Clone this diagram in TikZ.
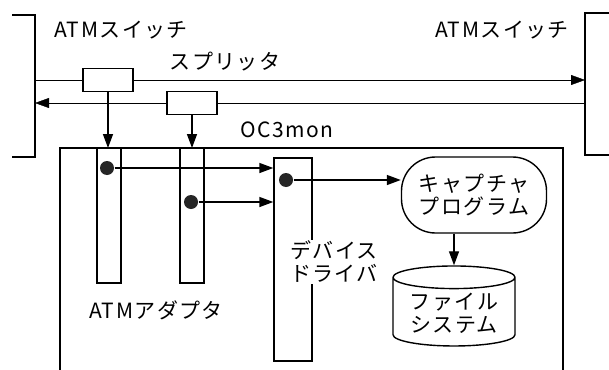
\documentclass[tikz,border=0pt]{standalone}
\usepackage{fontspec}
\setmainfont[LetterSpace=7]{Noto Sans CJK JP}
\usetikzlibrary{positioning,arrows.meta,shapes.geometric,backgrounds}

\begin{document}
\begin{tikzpicture}[
  x=1pt, y=-1pt, line width=1.4pt,
  lbl/.style={font=\fontsize{21}{23}\selectfont, align=center, inner sep=1pt},
  splitbox/.style={draw, fill=white, minimum width=50pt, minimum height=23pt, inner sep=0pt},
  bar/.style={draw, fill=white, minimum width=24pt, inner sep=0pt},
  blob/.style={circle, fill=black!85, inner sep=0pt, minimum size=14pt},
  arr/.style={-{Triangle[length=14pt,width=10pt]}}
]
  \useasboundingbox (0,0) rectangle (609,369);

  % switches
  \draw (12,15) -| (35,157) -- (12,157);
  \draw (609,13) -| (585,155) -- (609,155);
  \coordinate (swl) at (35,80);
  \coordinate (swr) at (585,80);
  \node[lbl] (swlabl) at (121,30) {ATMスイッチ};
  \node[lbl] (swlabr) at (502,30) {ATMスイッチ};

  % splitters
  \node[splitbox] (sp1) at (108,80) {};
  \node[splitbox] (sp2) at (192,103) {};
  \node[lbl] (splab) at (225,62) {スプリッタ};

  % OC3mon frame
  \coordinate (octl) at (60,148);
  \draw (60,375) |- (563,148) -- (563,375);
  \node[lbl] (oclab) at (287,130) {OC3mon};

  % adapters and driver
  \node[bar, minimum height=135pt] (ad1) at (109,215.5) {};
  \node[bar, minimum height=135pt] (ad2) at (192,215.5) {};
  \node[lbl] (adlab) at (156,310) {ATMアダプタ};
  \node[bar, minimum width=38pt, minimum height=203pt] (drv) at (293,259.5) {};
  \node[lbl, fill=white] (drvlab) at (334,262) {デバイス\\ドライバ};

  \node[blob] (d1) at (107,168) {};
  \node[blob] (d2) at (191,202) {};
  \node[blob] (d3) at (286,180) {};

  % capture and file system
  \node[draw, rounded corners=34pt, minimum width=145pt, minimum height=76pt, lbl] (cap) at (474,195) {キャプチャ\\プログラム};
  \node[draw, cylinder, shape border rotate=90, aspect=0.25, minimum width=122pt, minimum height=80pt, lbl] (fs) at (454,313) {ファイル\\システム};

  \begin{scope}[on background layer]
    \draw[arr] (sp1.east |- swl) -- (swr);
    \draw (swl) -- (sp1.west);
    \draw[arr] (sp2.west) -- (swl |- sp2);
    \draw (swr |- sp2) -- (sp2.east);
  \end{scope}

  \draw[arr] (sp1.south) -- (sp1.south |- octl);
  \draw[arr] (sp2.south) -- (sp2.south |- octl);
  \draw[arr] (d1) -- (d1 -| drv.west);
  \draw[arr] (d2) -- (d2 -| drv.west);
  \draw[arr] (d3) -- (d3 -| cap.west);
  \draw[arr] (cap.south -| fs.north) -- (fs.north);
\end{tikzpicture}
\end{document}
